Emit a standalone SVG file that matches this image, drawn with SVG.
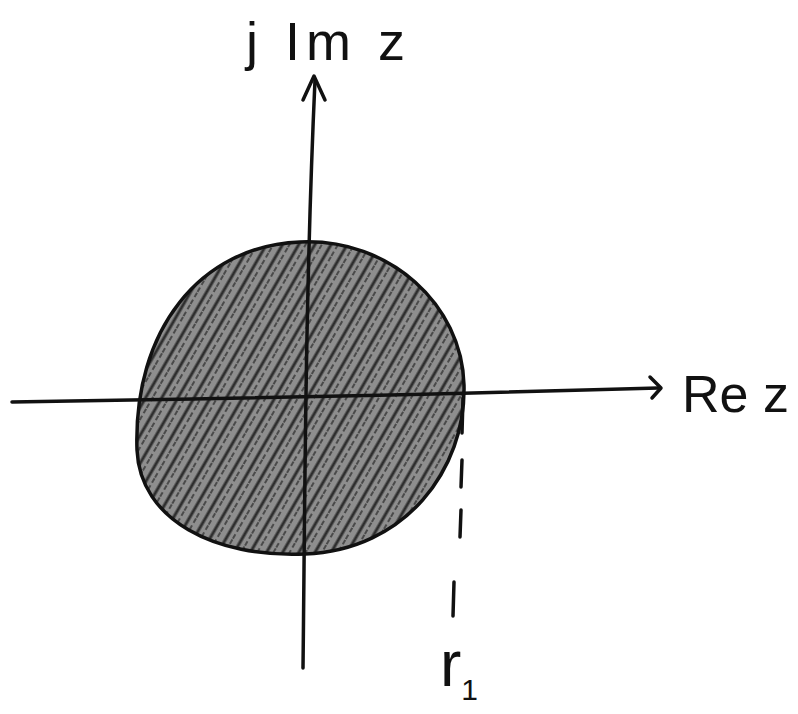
<svg xmlns="http://www.w3.org/2000/svg" width="798" height="714" viewBox="0 0 798 714">
<style>
.ink{fill:none;stroke:#111;stroke-width:3.5;stroke-linecap:round;stroke-linejoin:round}
.lbl{font-family:"Liberation Sans",Arial,sans-serif;fill:#111}
</style>
<defs>
<pattern id="hatch" patternUnits="userSpaceOnUse" width="14" height="14" patternTransform="rotate(-60)">
<rect width="14" height="14" fill="#8e8e8e"/>
<line x1="0" y1="3" x2="14" y2="3" stroke="#2e2e2e" stroke-width="3"/>
<line x1="0" y1="9" x2="14" y2="9" stroke="#4a4a4a" stroke-width="2" stroke-dasharray="5 3"/>
</pattern>
</defs>
<rect width="798" height="714" fill="#fff"/>
<g id="disk">
<path d="M300,242 C390,238 462,305 464,385 C466,470 405,550 305,554 C215,558 140,520 137,450 C133,330 200,246 300,242 Z" fill="url(#hatch)" stroke="#111" stroke-width="3.5"/>
</g>
<g id="connectors">
<path class="ink" d="M12,402 Q300,398 658,388"/>
<path class="ink" d="M650,377 L661,388 L652,398"/>
<path class="ink" d="M303,668 C305,500 305,300 315,80"/>
<path class="ink" d="M303,100 L314,76 L325,100"/>
<g id="radius-marker" class="ink">
<line x1="463" y1="398" x2="462" y2="433"/>
<line x1="462" y1="460" x2="461" y2="487"/>
<line x1="461" y1="510" x2="460" y2="537"/>
<line x1="454" y1="582" x2="453" y2="616"/>
</g>
</g>
<g id="label-im">
<text class="lbl" x="246" y="60" font-size="54" letter-spacing="6">j Im z</text>
</g>
<g id="label-re">
<text class="lbl" x="682" y="412" font-size="52">Re z</text>
</g>
<g id="label-r1">
<text class="lbl" x="440" y="686" font-size="64">r<tspan font-size="30" dy="14">1</tspan></text>
</g>
</svg>
